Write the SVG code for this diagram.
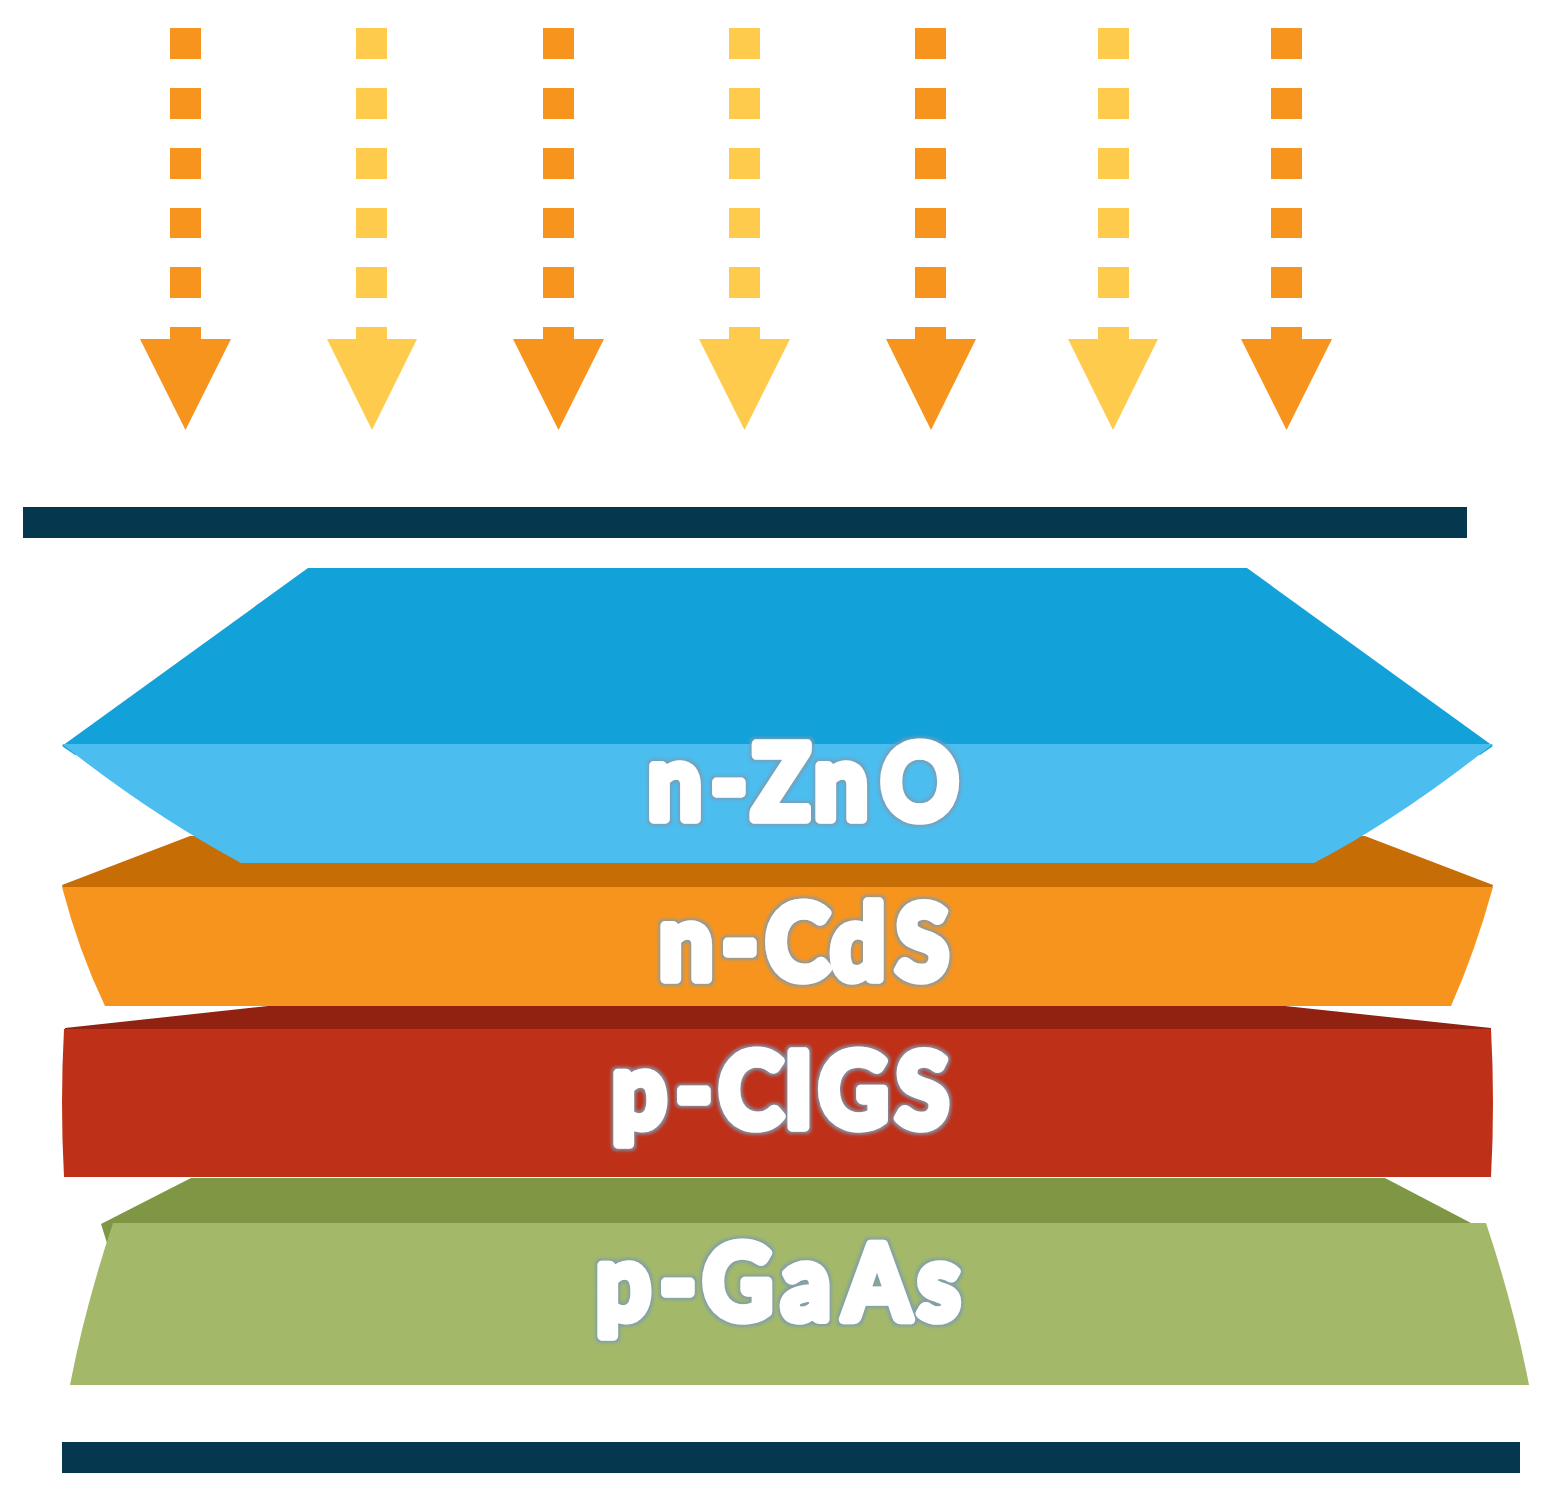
<svg xmlns="http://www.w3.org/2000/svg" width="1557" height="1503" viewBox="0 0 1557 1503">
<style>
.o{fill:#f7941e}.y{fill:#ffcb4c}.bar{fill:#05374f}
.t{font-family:"Lato","Open Sans",sans-serif;font-weight:700;font-size:103px;fill:#fff;stroke:#fff;stroke-width:9.500px;stroke-linejoin:round}
</style>
<defs>
<filter id="g" x="-10%" y="-20%" width="120%" height="140%"><feMorphology in="SourceAlpha" operator="dilate" radius="2"/><feGaussianBlur stdDeviation="1.500"/><feColorMatrix values="0 0 0 0 0.2 0 0 0 0 0.33 0 0 0 0 0.45 0 0 0 0.85 0" result="s"/><feMerge><feMergeNode in="s"/><feMergeNode in="SourceGraphic"/></feMerge></filter>
<g id="a"><rect x="0" y="28" width="31" height="31"/><rect x="0" y="88" width="31" height="31"/><rect x="0" y="148" width="31" height="31"/><rect x="0" y="208" width="31" height="30"/><rect x="0" y="267" width="31" height="31"/><rect x="0" y="327" width="31" height="14"/></g>
</defs>
<g id="connectors">
<g class="o"><use href="#a" x="170"/><path d="M140 339H231L185.500 430Z"/></g>
<g class="y"><use href="#a" x="356"/><path d="M327 339H417L372 430Z"/></g>
<g class="o"><use href="#a" x="543"/><path d="M513 339H604L558.500 430Z"/></g>
<g class="y"><use href="#a" x="729"/><path d="M699 339H790L744.500 430Z"/></g>
<g class="o"><use href="#a" x="915"/><path d="M886 339H976L931 430Z"/></g>
<g class="y"><use href="#a" x="1098"/><path d="M1068 339H1158L1113 430Z"/></g>
<g class="o"><use href="#a" x="1271"/><path d="M1241 339H1332L1286.500 430Z"/></g>
</g>
<rect id="top-bar" class="bar" x="23" y="507" width="1444" height="31"/>
<g id="p-GaAs">
<path fill="#7f9645" d="M191 1178H1385L1471 1223V1230H120L107 1243L101 1224Z"/>
<path fill="#a3b869" d="M113 1223H1486Q1514 1307 1529 1385H70Q85 1307 113 1223Z"/>
<g filter="url(#g)"><text class="t" transform="scale(.93 1)" x="640.900 709.800 755.800 840.700 907.200 986.900" y="1319">p-GaAs</text></g>
</g>
<g id="p-CIGS">
<path fill="#912211" d="M268 1006H1285L1491 1028V1040H65V1028Z"/>
<path fill="#bf3019" d="M64 1029H1491Q1495 1103 1491 1177H64Q60 1103 64 1029Z"/>
<g filter="url(#g)"><text class="t" transform="scale(.93 1)" x="658.100 726.900 773 843.200 880.500 963.400" y="1127">p-CIGS</text></g>
</g>
<g id="n-CdS">
<path fill="#c66e05" d="M62 885L190 836H1365L1493 885L1490 895H65Z"/>
<path fill="#f7941e" d="M62 887H1493Q1475 952 1451 1006H105Q79 952 62 887Z"/>
<g filter="url(#g)"><text class="t" transform="scale(.93 1)" x="708.700 776.400 823.500 893.400 963.400" y="979">n-CdS</text></g>
</g>
<g id="n-ZnO">
<path fill="#12a1d9" d="M62 746L308 568H1247L1493 746L1480 755H75Z"/>
<path fill="#4bbdef" d="M62 744H1493Q1400 818 1314 863H241Q152 815 62 744Z"/>
<g filter="url(#g)"><text class="t" transform="scale(.93 1)" x="696.500 764.600 808.500 875.300 947.200" y="819">n-ZnO</text></g>
</g>
<rect id="bottom-bar" class="bar" x="62" y="1442" width="1458" height="31"/>
</svg>
